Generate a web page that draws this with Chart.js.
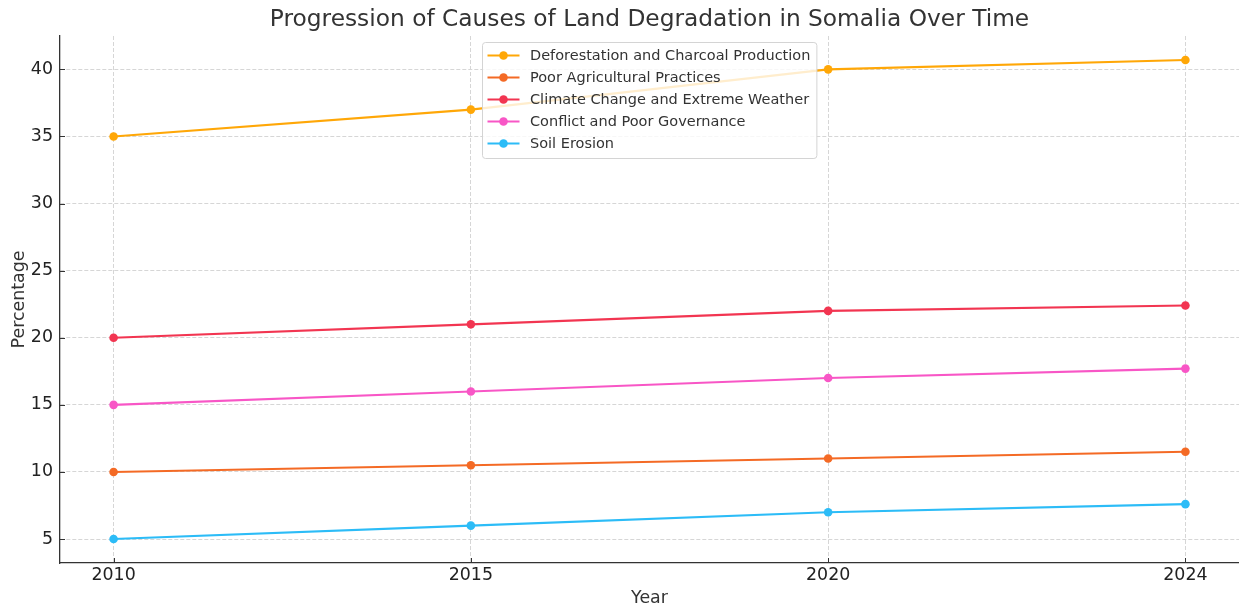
<!DOCTYPE html>
<html>
<head>
<meta charset="utf-8">
<title>Progression of Causes of Land Degradation in Somalia Over Time</title>
<script src="https://cdn.jsdelivr.net/npm/chart.js@4"></script>
<style>
  html, body { margin: 0; padding: 0; background: #ffffff; }
  #chart { display: block; }
</style>
</head>
<body>
<canvas id="chart" width="1239" height="610"></canvas>
<script>
// Years shown on the x axis (evenly spaced categories)
const years = ['2010', '2015', '2020', '2024'];

// Share of land degradation attributed to each cause (%)
const deforestation = [35, 37, 40, 40.7];
const poorAgriculture = [10, 10.5, 11, 11.5];
const climateChange = [20, 21, 22, 22.4];
const conflictGovernance = [15, 16, 17, 17.7];
const soilErosion = [5, 6, 7, 7.6];

// Y axis tick values
const yTicks = [5, 10, 15, 20, 25, 30, 35, 40];

const seriesNames = [
  'Deforestation and Charcoal Production',
  'Poor Agricultural Practices',
  'Climate Change and Extreme Weather',
  'Conflict and Poor Governance',
  'Soil Erosion'
];
const seriesValues = [deforestation, poorAgriculture, climateChange, conflictGovernance, soilErosion];
const seriesColors = ['#FFA707', '#F46A25', '#F23551', '#F856C6', '#2CBCF7'];

const FONT = "'DejaVu Sans', 'Liberation Sans', sans-serif";
const TEXT = '#333333';
const TICK_SIZE = 17.4;
Chart.defaults.font.family = FONT;
Chart.defaults.color = TEXT;

const datasets = seriesValues.map((vals, s) => ({
  label: seriesNames[s],
  data: vals.map((v, i) => ({ x: i, y: v })),
  borderColor: seriesColors[s],
  backgroundColor: seriesColors[s],
  borderWidth: 2.1,
  pointRadius: 4.3,
  pointHoverRadius: 4.3,
  pointBorderWidth: 0,
  tension: 0
}));

// Chart title centred over the plotting area
const titlePlugin = {
  id: 'plotTitle',
  afterDraw(chart) {
    const { ctx, chartArea } = chart;
    ctx.save();
    ctx.font = '23.3px ' + FONT;
    ctx.fillStyle = TEXT;
    ctx.textAlign = 'center';
    ctx.textBaseline = 'middle';
    ctx.fillText('Progression of Causes of Land Degradation in Somalia Over Time',
      (chartArea.left + chartArea.right) / 2, 20);
    ctx.restore();
  }
};

// Short inward tick marks on the left and bottom axes
const innerTicksPlugin = {
  id: 'innerTicks',
  afterDraw(chart) {
    const { ctx, chartArea, scales } = chart;
    ctx.save();
    ctx.strokeStyle = '#333333';
    ctx.lineWidth = 1;
    ctx.beginPath();
    scales.x.ticks.forEach(t => {
      const px = Math.round(scales.x.getPixelForValue(t.value)) + 0.5;
      ctx.moveTo(px, chartArea.bottom);
      ctx.lineTo(px, chartArea.bottom - 5);
    });
    scales.y.ticks.forEach(t => {
      const py = Math.round(scales.y.getPixelForValue(t.value)) + 0.5;
      ctx.moveTo(chartArea.left, py);
      ctx.lineTo(chartArea.left + 5, py);
    });
    ctx.stroke();
    ctx.restore();
  }
};

// Legend box drawn inside the plot, upper centre
const innerLegendPlugin = {
  id: 'innerLegend',
  afterDraw(chart) {
    const { ctx, chartArea } = chart;
    const ds = chart.data.datasets;
    ctx.save();
    ctx.font = '14.5px ' + FONT;
    let maxW = 0;
    ds.forEach(d => { maxW = Math.max(maxW, ctx.measureText(d.label).width); });
    const boxW = 48 + maxW + 6;
    const rowH = 22;
    const boxH = 13 + rowH * (ds.length - 1) + 15;
    const left = Math.round((chartArea.left + chartArea.right) / 2 - boxW / 2) + 0.5;
    const top = chartArea.top + 6.5;

    ctx.beginPath();
    ctx.roundRect(left, top, boxW, boxH, 3);
    ctx.fillStyle = 'rgba(255,255,255,0.8)';
    ctx.fill();
    ctx.strokeStyle = '#d4d4d4';
    ctx.lineWidth = 1;
    ctx.stroke();

    ds.forEach((d, i) => {
      const cy = top + 13 + rowH * i;
      ctx.strokeStyle = d.borderColor;
      ctx.lineWidth = 2.1;
      ctx.beginPath();
      ctx.moveTo(left + 5, cy);
      ctx.lineTo(left + 37, cy);
      ctx.stroke();
      ctx.fillStyle = d.borderColor;
      ctx.beginPath();
      ctx.arc(left + 21, cy, 4.3, 0, Math.PI * 2);
      ctx.fill();
      ctx.fillStyle = TEXT;
      ctx.textAlign = 'left';
      ctx.textBaseline = 'middle';
      ctx.fillText(d.label, left + 47.5, cy + 0.5);
    });
    ctx.restore();
  }
};

const gridStyle = {
  color: '#d6d6d6',
  lineWidth: 1,
  drawTicks: false
};

new Chart(document.getElementById('chart'), {
  type: 'line',
  data: { datasets },
  options: {
    responsive: false,
    animation: false,
    devicePixelRatio: 1,
    layout: { autoPadding: false, padding: { top: 36, right: 0, left: 0, bottom: 0 } },
    plugins: {
      legend: { display: false },
      title: { display: false },
      tooltip: { enabled: false }
    },
    scales: {
      x: {
        type: 'linear',
        min: -0.15,
        max: 3.15,
        afterBuildTicks(scale) {
          scale.ticks = years.map((_, i) => ({ value: i }));
        },
        afterFit(scale) {
          scale.height = 47;
          scale.paddingLeft = 0;
          scale.paddingRight = 0;
        },
        ticks: {
          padding: 2,
          font: { size: TICK_SIZE },
          color: '#222222',
          maxRotation: 0,
          callback: (v) => years[v]
        },
        grid: gridStyle,
        border: { display: true, color: '#333333', width: 1.3, dash: [4, 2] },
        title: {
          display: true,
          text: 'Year',
          font: { size: TICK_SIZE },
          color: TEXT,
          padding: { top: 0, bottom: 1 }
        }
      },
      y: {
        type: 'linear',
        min: 3.215,
        max: 42.485,
        afterBuildTicks(scale) {
          scale.ticks = yTicks.map(v => ({ value: v }));
        },
        afterFit(scale) { scale.width = 60; },
        ticks: {
          padding: 7,
          font: { size: TICK_SIZE },
          color: '#222222'
        },
        grid: gridStyle,
        border: { display: true, color: '#333333', width: 1.3, dash: [4, 2] },
        title: {
          display: true,
          text: 'Percentage',
          font: { size: TICK_SIZE },
          color: TEXT,
          padding: { top: 9, bottom: 0 }
        }
      }
    }
  },
  plugins: [titlePlugin, innerTicksPlugin, innerLegendPlugin]
});
</script>
</body>
</html>
